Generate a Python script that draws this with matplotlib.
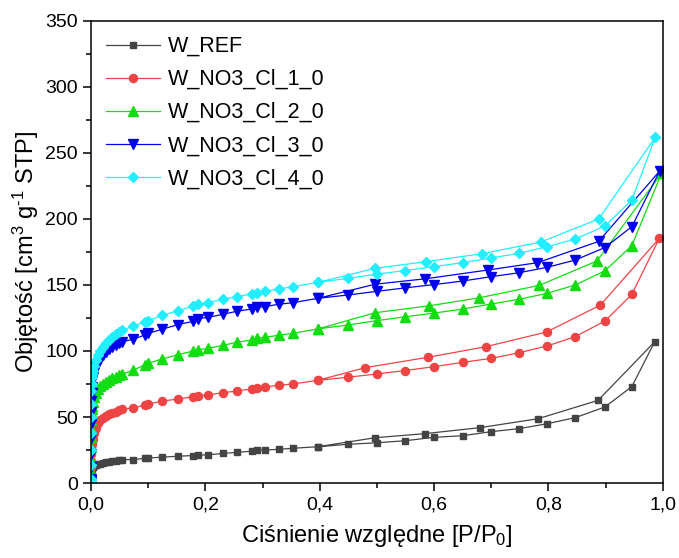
import matplotlib
matplotlib.use('Agg')
import matplotlib.pyplot as plt
from matplotlib.ticker import MultipleLocator, FuncFormatter

plt.rcParams['font.family'] = ['Liberation Sans', 'DejaVu Sans']
plt.rcParams['mathtext.fontset'] = 'custom'
plt.rcParams['mathtext.rm'] = 'Liberation Sans'
plt.rcParams['mathtext.it'] = 'Liberation Sans'

# relative pressure points of the adsorption branch (shared by all samples)
p_low = [0.0, 0.00001, 0.00002, 0.00005, 0.0001, 0.0002, 0.0003, 0.0005, 0.0007, 0.001,
         0.0015, 0.002, 0.003, 0.005, 0.008, 0.012, 0.016, 0.021, 0.026, 0.031,
         0.037, 0.043, 0.049, 0.055]
p_mid = [0.074, 0.094, 0.1, 0.125, 0.152, 0.179, 0.188, 0.205, 0.231, 0.255,
         0.281, 0.29, 0.304, 0.328, 0.353, 0.397, 0.449, 0.5, 0.549, 0.6,
         0.65, 0.7, 0.749, 0.798, 0.847, 0.899, 0.946]
p_ads = p_low + p_mid

# W_REF
ref_ads = [0, 1, 2, 3, 5, 6.5, 8, 9, 10, 10.6, 11.3, 11.8, 12.4, 13, 13.6, 14.1, 14.6, 15.2,
           15.7, 16.1, 16.5, 17, 17.3, 17.6,
           17.8, 18.6, 18.9, 19.6, 20.3, 20.8, 21.1, 21.4, 22.4, 23.2, 24.1, 24.8, 25, 25.5, 26.3,
           27.5, 29.3, 30.5, 32, 34.6, 35.8, 38.9, 41.2, 44.9, 49.5, 57.6, 73]
ref_top = (0.986, 107)
ref_p_des = [0.887, 0.782, 0.68, 0.584, 0.497, 0.397]
ref_des = [62.6, 48.7, 41.9, 37.4, 34.3, 27.5]

# W_NO3_Cl_1_0
cl1_ads = [0, 1, 2, 6, 12, 17, 22, 25, 28, 29.5, 31, 32, 33, 38, 42, 45.5, 47.7, 49.5, 51,
           52, 53, 54, 55, 56,
           56.8, 59, 59.7, 62.1, 63.6, 65.4, 66.2, 66.8, 68.4, 69.7, 71.2, 72.2, 72.7, 74, 75,
           77.8, 80.1, 82.6, 85.2, 88.1, 91.4, 94.4, 98.7, 103.8, 110.9, 122.7, 142.9]
cl1_top = (0.994, 185.3)
cl1_p_des = [0.891, 0.797, 0.691, 0.589, 0.48, 0.397]
cl1_des = [134.8, 114.4, 103.3, 95.2, 87.4, 77.8]

# W_NO3_Cl_2_0
cl2_ads = [0, 1, 2, 9, 18, 27, 35, 42, 48, 52, 56, 58.5, 61, 65, 68.5, 71.5, 73.5, 75.3,
           76.8, 78, 79.2, 80.3, 81.5, 82.6,
           85.5, 89.5, 90.7, 94, 97.2, 100, 101, 102, 104.3, 106.6, 108.3, 109.6, 110.4, 111.9,
           113.4, 116.7, 119.7, 123, 125.9, 128.7, 131.8, 135.6, 139.2, 143.7, 150, 160.8, 179.8]
cl2_top = (0.998, 234.6)
cl2_p_des = [0.885, 0.784, 0.678, 0.591, 0.497, 0.397]
cl2_des = [168.2, 149.7, 140.2, 134.2, 129, 116.7]

# W_NO3_Cl_3_0
cl3_ads = [0, 1.5, 3, 12, 22, 34, 45, 54, 62, 68, 73, 77, 80, 84, 87.5, 91, 94, 97, 99.5,
           101.3, 103, 104.5, 105.8, 107,
           109, 112.1, 113.4, 116.5, 120, 122.5, 124.5, 125.5, 127.8, 130.1, 131.8, 133.1, 133.6,
           135.4, 136.6, 139.9, 142.4, 145.2, 147.8, 150.3, 153, 156.3, 159.3, 163.4, 168.9,
           178.4, 194.2]
cl3_top = (0.995, 236.5)
cl3_p_des = [0.888, 0.781, 0.695, 0.585, 0.497, 0.397]
cl3_des = [183, 166.9, 161.4, 154.7, 150.6, 139.9]

# W_NO3_Cl_4_0
cl4_ads = [0, 1.5, 3, 14, 25, 38, 50, 60, 70, 75, 80, 82.5, 85, 89, 93, 97, 100, 103, 105.8,
           108, 110.5, 112.7, 114.6, 116,
           118.6, 122.2, 123, 127, 130.5, 134, 135.5, 136.6, 139.2, 141.2, 143.2, 144, 145.2, 147,
           148.7, 152, 155, 158.2, 160.9, 163.9, 166.9, 170.5, 174, 179, 184.8, 194.7, 214.4]
cl4_top = (0.987, 261.9)
cl4_p_des = [0.888, 0.787, 0.684, 0.586, 0.497, 0.397]
cl4_des = [200, 182.6, 173.7, 167.7, 162.6, 152]

labels = ['W_REF', 'W_NO3_Cl_1_0', 'W_NO3_Cl_2_0', 'W_NO3_Cl_3_0', 'W_NO3_Cl_4_0']
colors = ['#444444', '#ee4444', '#11dd11', '#0000ee', '#22eeff']
markers = ['s', 'o', '^', 'v', 'D']
msizes = [5, 5.8, 6.8, 6.8, 5.2]

series = [(ref_ads, ref_top, ref_p_des, ref_des),
          (cl1_ads, cl1_top, cl1_p_des, cl1_des),
          (cl2_ads, cl2_top, cl2_p_des, cl2_des),
          (cl3_ads, cl3_top, cl3_p_des, cl3_des),
          (cl4_ads, cl4_top, cl4_p_des, cl4_des)]

fig = plt.figure(figsize=(6.79, 5.58), dpi=100)
ax = fig.add_axes([0.134, 0.1344, 0.842, 0.828])

for (ads, top, pdes, des), lab, c, m, ms in zip(series, labels, colors, markers, msizes):
    # adsorption up to p/p0 ~ 1, then desorption back down
    x = p_ads + [top[0]] + pdes
    y = ads + [top[1]] + des
    ax.plot(x, y, color=c, lw=0.9, marker=m, ms=ms, mec=c, mfc=c, label=lab)

ax.set_xlim(0, 1.0)
ax.set_ylim(0, 350)
ax.xaxis.set_major_locator(MultipleLocator(0.2))
ax.xaxis.set_minor_locator(MultipleLocator(0.1))
ax.yaxis.set_major_locator(MultipleLocator(50))
ax.yaxis.set_minor_locator(MultipleLocator(25))
ax.xaxis.set_major_formatter(FuncFormatter(lambda v, pos: ('%.1f' % v).replace('.', ',')))
ax.tick_params(which='major', direction='out', length=6, width=1.1, labelsize=14,
               top=False, right=False)
ax.tick_params(which='minor', direction='out', length=3.5, width=1.1, top=False, right=False)
for s in ax.spines.values():
    s.set_linewidth(1.1)

ax.set_xlabel('Ciśnienie względne [P/P$_0$]', fontsize=17, labelpad=7)
ax.set_ylabel(r'Objętość [cm$^3$ g$^{\text{-}1}$ STP]', fontsize=17, labelpad=3)

ax.legend(loc='upper left', frameon=False, fontsize=15.5, handlelength=2.5,
          handletextpad=0.35, labelspacing=0.56, borderaxespad=0.3,
          bbox_to_anchor=(0.0, 1.0))

fig.savefig('out.png', dpi=100)
